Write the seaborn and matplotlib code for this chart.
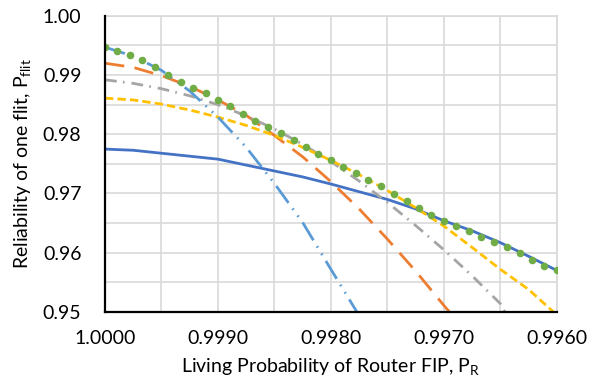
import numpy as np
import pandas as pd
import matplotlib
matplotlib.use("Agg")
import matplotlib.pyplot as plt
from matplotlib.ticker import MultipleLocator, FormatStrFormatter
import seaborn as sns

# ---- data ----
p_grid = [1.0000, 0.99975, 0.9995, 0.99925, 0.9990, 0.99875, 0.9985, 0.99825,
          0.9980, 0.99775, 0.9975, 0.99725, 0.9970, 0.99675, 0.9965, 0.99625, 0.9960]

solid_blue = [0.9775, 0.9773, 0.9768, 0.9763, 0.9758, 0.9748, 0.9738, 0.9728,
              0.9716, 0.9703, 0.9690, 0.9674, 0.9654, 0.9637, 0.9617, 0.9594, 0.9570]

light_blue_x = [1.0000, 0.99975, 0.9995, 0.99925, 0.9990, 0.99875, 0.9985, 0.99825,
                0.9980, 0.99777]
light_blue = [0.9947, 0.9932, 0.9908, 0.9873, 0.9829, 0.9778, 0.9717, 0.9651,
              0.9572, 0.9500]

orange_x = [1.0000, 0.99975, 0.9995, 0.99925, 0.9990, 0.99875, 0.9985, 0.99825,
            0.9980, 0.99775, 0.9975, 0.99725, 0.9970, 0.99695]
orange = [0.9920, 0.9913, 0.9899, 0.9881, 0.9858, 0.9832, 0.9798, 0.9762,
          0.9720, 0.9674, 0.9623, 0.9569, 0.9511, 0.9500]

gray_x = [1.0000, 0.99975, 0.9995, 0.99925, 0.9990, 0.99875, 0.9985, 0.99825,
          0.9980, 0.99775, 0.9975, 0.99725, 0.9970, 0.99675, 0.9965, 0.99646]
gray = [0.9892, 0.9886, 0.9877, 0.9865, 0.9850, 0.9831, 0.9809, 0.9783,
        0.9754, 0.9721, 0.9685, 0.9646, 0.9605, 0.9561, 0.9514, 0.9500]

yellow_x = [1.0000, 0.99975, 0.9995, 0.99925, 0.9990, 0.99875, 0.9985, 0.99825,
            0.9980, 0.99775, 0.9975, 0.99725, 0.9970, 0.99675, 0.9965, 0.99625, 0.99603]
yellow = [0.9861, 0.9858, 0.9851, 0.9841, 0.9829, 0.9815, 0.9798, 0.9778,
          0.9756, 0.9732, 0.9705, 0.9676, 0.9645, 0.9609, 0.9572, 0.9538, 0.9500]

green_x = [1.0000, 0.99989, 0.99978, 0.99967, 0.99956, 0.99944, 0.99933, 0.99922,
           0.99911, 0.99900, 0.99889, 0.99878, 0.99867, 0.99856, 0.99844, 0.99833,
           0.99822, 0.99811, 0.99800, 0.99789, 0.99778, 0.99767, 0.99756, 0.99744,
           0.99733, 0.99722, 0.99711, 0.99700, 0.99689, 0.99678, 0.99667, 0.99656,
           0.99644, 0.99633, 0.99622, 0.99611, 0.99600]
green = [0.9947, 0.9941, 0.9934, 0.9925, 0.9913, 0.9900, 0.9888, 0.9879,
         0.9869, 0.9858, 0.9847, 0.9834, 0.9823, 0.9813, 0.9802, 0.9790,
         0.9779, 0.9767, 0.9757, 0.9745, 0.9734, 0.9723, 0.9712, 0.9699,
         0.9688, 0.9675, 0.9664, 0.9654, 0.9645, 0.9637, 0.9627, 0.9618,
         0.9609, 0.9599, 0.9588, 0.9578, 0.9570]

x_ticks = [1.0000, 0.9990, 0.9980, 0.9970, 0.9960]
y_ticks = [0.95, 0.96, 0.97, 0.98, 0.99, 1.00]

# ---- style ----
sns.set_theme(style="white")
plt.rcParams['font.family'] = ['Lato', 'DejaVu Sans']
plt.rcParams['lines.scale_dashes'] = False

fig = plt.figure(figsize=(6.0, 3.87), dpi=100)
ax = fig.add_axes([0.175, 0.194, 0.753, 0.765])

lw = 2.0
sns.lineplot(x=p_grid, y=solid_blue, ax=ax, color="#4472C4", lw=lw,
             estimator=None, sort=False)
sns.lineplot(x=orange_x, y=orange, ax=ax, color="#ED7D31", lw=lw,
             estimator=None, sort=False, linestyle=(0, (14, 7.5)))
sns.lineplot(x=gray_x, y=gray, ax=ax, color="#A5A5A5", lw=lw,
             estimator=None, sort=False, linestyle=(0, (8.5, 4.5, 1.2, 5)))
sns.lineplot(x=yellow_x, y=yellow, ax=ax, color="#FFC000", lw=lw,
             estimator=None, sort=False, linestyle=(0, (6, 3)))
sns.lineplot(x=light_blue_x, y=light_blue, ax=ax, color="#5B9BD5", lw=lw,
             estimator=None, sort=False, linestyle=(0, (15, 5, 1.2, 5, 1.2, 5)))
sns.scatterplot(x=green_x, y=green, ax=ax, color="#70AD47", s=30,
                edgecolor="#70AD47", linewidth=0, zorder=5, clip_on=True)

ax.set_xlim(1.0, 0.996)
ax.set_ylim(0.95, 1.00)
ax.set_xticks(x_ticks)
ax.set_yticks(y_ticks)
ax.xaxis.set_minor_locator(MultipleLocator(0.0005))
ax.yaxis.set_minor_locator(MultipleLocator(0.005))
ax.xaxis.set_major_formatter(FormatStrFormatter('%.4f'))
ax.yaxis.set_major_formatter(FormatStrFormatter('%.2f'))
ax.grid(True, which='both', color='#D9D9D9', lw=1.2)
ax.set_axisbelow(True)
ax.tick_params(which='both', length=0, labelsize=14, colors='black')
ax.tick_params(axis='x', pad=13)
ax.tick_params(axis='y', pad=17)

for s in ['top', 'right']:
    ax.spines[s].set_color('#D9D9D9')
    ax.spines[s].set_linewidth(1.2)
for s in ['left', 'bottom']:
    ax.spines[s].set_color('black')
    ax.spines[s].set_linewidth(1.6)
    ax.spines[s].set_zorder(6)

ax.set_xlabel(r"Living Probability of Router FIP, P$_\mathregular{R}$",
              fontsize=14, labelpad=7, color='black')
ax.set_ylabel(r"Reliability of one flit, P$_\mathregular{flit}$",
              fontsize=14, labelpad=6, color='black')

fig.savefig("out.png", dpi=100)
